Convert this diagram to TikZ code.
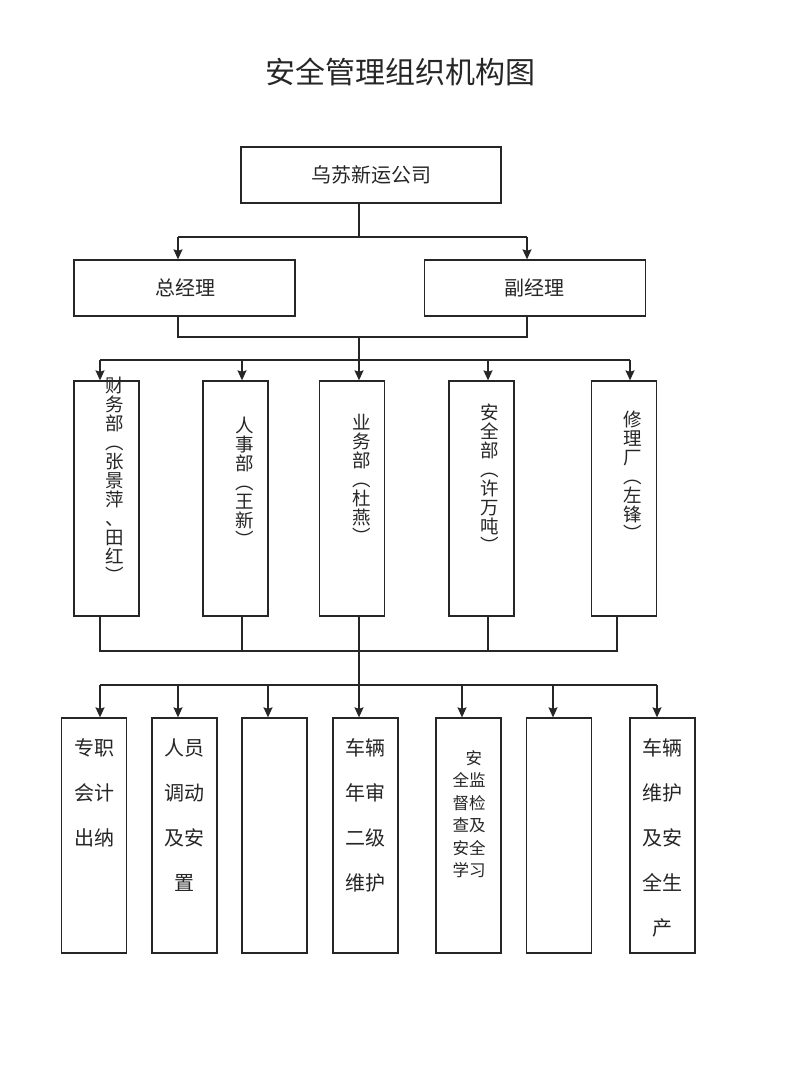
\documentclass[tikz,border=0pt]{standalone}
\usepackage{fontspec}
\newfontfamily\cjk{Noto Sans CJK SC}
\usetikzlibrary{arrows.meta}
\newcommand\tightlines{\lineskiplimit=-30pt\relax}
\begin{document}
\begin{tikzpicture}[x=1pt,y=-1pt,
  ln/.style={draw=black!85, line width=1.3pt},
  arr/.style={ln, -{Stealth[length=10pt,width=9pt,inset=1.5pt]}},
  mgr/.style={draw=black!85, line width=1.3pt, minimum height=56pt, inner sep=0pt},
  col/.style={draw=black!85, line width=1.3pt, minimum width=65pt, minimum height=235pt, inner sep=0pt},
  vt/.style={font=\cjk\fontsize{18.5}{19}\selectfont\tightlines, align=center, inner sep=0pt, text=black!85},
  ht/.style={font=\cjk\fontsize{20}{45}\selectfont, align=center, inner sep=0pt, text=black!85},
  st/.style={font=\cjk\fontsize{16.5}{22.5}\selectfont\tightlines, align=center, inner sep=0pt, text=black!85},
  lab/.style={font=\cjk\fontsize{20}{24}\selectfont, inner sep=0pt, text=black!85}]
\useasboundingbox[fill=white] (0,0) rectangle (800,1089);

\node[font=\cjk\fontsize{30}{34}\selectfont, inner sep=0pt, text=black!85] (title) at (400,72) {安全管理组织机构图};

% top levels
\node[mgr, minimum width=260pt] (top) at (371,175) {};
\node[lab] (toptxt) at (371,175) {乌苏新运公司};
\node[mgr, minimum width=221pt] (zjl) at (184.5,288) {};
\node[lab] (zjltxt) at (185,288) {总经理};
\node[mgr, minimum width=221pt] (fjl) at (535,288) {};
\node[lab] (fjltxt) at (534,288) {副经理};

% departments
\node[col] (cwb) at (106.5,498.5) {};
\node[col] (rsb) at (235.5,498.5) {};
\node[col] (ywb) at (352,498.5) {};
\node[col] (aqb) at (481.5,498.5) {};
\node[col] (xlc) at (624,498.5) {};
\node[vt] (cwbt) at (115,479.5) {财\\务\\部\\︵\\张\\景\\萍\\、\\田\\红\\︶};
\node[vt] (rsbt) at (245,481.5) {人\\事\\部\\︵\\王\\新\\︶};
\node[vt] (ywbt) at (362,479) {业\\务\\部\\︵\\杜\\燕\\︶};
\node[vt] (aqbt) at (490,478.5) {安\\全\\部\\︵\\许\\万\\吨\\︶};
\node[vt] (xlct) at (633,475.5) {修\\理\\厂\\︵\\左\\锋\\︶};

% bottom row
\node[col] (u1) at (94,835.5) {};
\node[col] (u2) at (184.5,835.5) {};
\node[col] (u3) at (274.5,835.5) {};
\node[col] (u4) at (365.5,835.5) {};
\node[col] (u5) at (468.5,835.5) {};
\node[col] (u6) at (559,835.5) {};
\node[col] (u7) at (662.5,835.5) {};
\node[ht] (u1t) at (94,793) {专职\\会计\\出纳};
\node[ht] (u2t) at (184,815) {人员\\调动\\及安\\置};
\node[ht] (u4t) at (365,815) {车辆\\年审\\二级\\维护};
\node[st] (u5t) at (469,814) {\hspace*{0.6em}安\\全监\\督检\\查及\\安全\\学习};
\node[ht] (u7t) at (662,837.5) {车辆\\维护\\及安\\全生\\产};

% connectors: company -> managers
\coordinate (c0) at (359,237);
\coordinate (a1) at (178,237);
\coordinate (a2) at (527,237);
\draw[ln] (top.south -| c0) -- (c0);
\draw[ln] (a1) -- (a2);
\draw[arr] (a1) -- (a1 |- zjl.north);
\draw[arr] (a2) -- (a2 |- fjl.north);

% managers -> departments
\coordinate (b1) at (178,337);
\coordinate (b2) at (527,337);
\coordinate (b0) at (359,337);
\draw[ln] (a1 |- zjl.south) -- (b1) -- (b2) -- (a2 |- fjl.south);
\draw[arr] (b0) -- (b0 |- ywb.north);
\coordinate (d1) at (100,360);
\coordinate (d2) at (242,360);
\coordinate (d4) at (488,360);
\coordinate (d5) at (630,360);
\draw[ln] (d1) -- (d5);
\draw[arr] (d1) -- (d1 |- cwb.north);
\draw[arr] (d2) -- (d2 |- rsb.north);
\draw[arr] (d4) -- (d4 |- aqb.north);
\draw[arr] (d5) -- (d5 |- xlc.north);

% departments -> bottom row
\coordinate (e1) at (100,651);
\coordinate (e2) at (242,651);
\coordinate (e3) at (359,651);
\coordinate (e4) at (488,651);
\coordinate (e5) at (617,651);
\draw[ln] (e1 |- cwb.south) -- (e1) -- (e5) -- (e5 |- xlc.south);
\draw[ln] (e2 |- rsb.south) -- (e2);
\draw[ln] (e4 |- aqb.south) -- (e4);
\draw[arr] (e3 |- ywb.south) -- (e3 |- u4.north);
\coordinate (f1) at (100,685);
\coordinate (f2) at (178,685);
\coordinate (f3) at (268,685);
\coordinate (f5) at (462,685);
\coordinate (f6) at (553,685);
\coordinate (f7) at (657,685);
\draw[ln] (f1) -- (f7);
\draw[arr] (f1) -- (f1 |- u1.north);
\draw[arr] (f2) -- (f2 |- u2.north);
\draw[arr] (f3) -- (f3 |- u3.north);
\draw[arr] (f5) -- (f5 |- u5.north);
\draw[arr] (f6) -- (f6 |- u6.north);
\draw[arr] (f7) -- (f7 |- u7.north);
\end{tikzpicture}
\end{document}
